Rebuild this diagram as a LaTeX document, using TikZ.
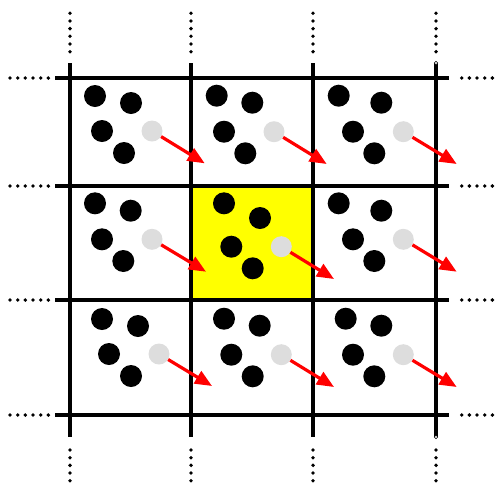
\documentclass[tikz,border=0pt]{standalone}
\usetikzlibrary{arrows.meta}
\definecolor{ballgray}{RGB}{221,221,221}
\definecolor{cellyellow}{RGB}{255,255,0}
\tikzset{
  gridline/.style={line width=3.4pt,black},
  dotline/.style={line width=3.8pt,line cap=round,dash pattern=on 0pt off 7.67pt,black},
  blackball/.style={circle,fill=black,minimum size=22pt,inner sep=0pt},
  grayball/.style={circle,fill=ballgray,minimum size=21pt,inner sep=0pt},
  vel/.style={red,line width=3.2pt,-{Triangle[length=17pt,width=14pt]}},
  endring/.style={circle,draw=black,fill=white,line width=0.6pt,minimum size=3.5pt,inner sep=0pt}
}
\begin{document}
\begin{tikzpicture}[x=1pt,y=-1pt]
\useasboundingbox (0,0) rectangle (497,483);
% central cell
\fill[cellyellow] (191,186) rectangle (313,300);
% grid
\foreach \x in {70,191,313,436} {
  \draw[gridline] (\x,63) -- (\x,437);
  \draw[dotline] (\x,13.3) -- (\x,52);
  \draw[dotline] (\x,450) -- (\x,490);
}
\foreach \y in {78,186,300,415} {
  \draw[gridline] (55,\y) -- (449,\y);
  \draw[dotline] (10,\y) -- (48.5,\y);
  \draw[dotline] (461.7,\y) -- (494,\y);
}
\node[endring] (ringtop) at (436,63) {};
\node[endring] (ringbot) at (436,437) {};
% particles
\foreach \i/\ax/\ay/\bx/\by/\cx/\cy/\dx/\dy/\gx/\gy/\tx/\ty in {
  1/95/96/131/103/102/131/124/153/152/131/204.7/163.3,
  2/216.7/95.7/252.3/102.7/224/131.7/245.3/153.3/274/131.7/326.7/164,
  3/338.7/95.7/381.3/102.7/353/131.7/374.3/153.3/403.3/131.7/456.7/164,
  4/95/203.3/130.7/210.7/102/239.3/123.3/261/152/239.3/206/271.7,
  5/224/203.3/260/218/231.3/246.7/252.7/268.3/281.3/246.7/334/279,
  6/338.7/203.3/381.3/210.7/353/239.3/374.3/261/403.3/239.3/456.7/271.7,
  7/102/319/138/326/109/354/131/376/159/354/212/386,
  8/224/318.7/259.7/325.7/231.3/354.7/252.7/376.3/281.3/354.7/334/387,
  9/345.7/318.7/381.3/325.7/353/354.7/374.3/376.3/403.3/354.7/456.7/387} {
  \node[blackball] (a\i) at (\ax,\ay) {};
  \node[blackball] (b\i) at (\bx,\by) {};
  \node[blackball] (c\i) at (\cx,\cy) {};
  \node[blackball] (d\i) at (\dx,\dy) {};
  \node[grayball] (g\i) at (\gx,\gy) {};
  \coordinate (t\i) at (\tx,\ty);
}
\foreach \i in {1,...,9} {
  \draw[vel] (g\i) -- (t\i);
}
\end{tikzpicture}
\end{document}
